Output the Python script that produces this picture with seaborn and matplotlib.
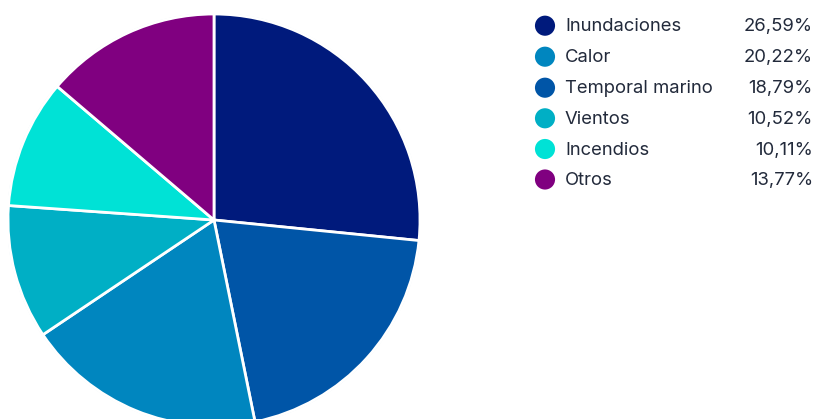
import matplotlib
matplotlib.use("Agg")
import matplotlib.pyplot as plt
import seaborn as sns

# legend order
labels = ["Inundaciones", "Calor", "Temporal marino", "Vientos", "Incendios", "Otros"]
values = [26.59, 20.22, 18.79, 10.52, 10.11, 13.77]
pct_text = ["26,59%", "20,22%", "18,79%", "10,52%", "10,11%", "13,77%"]

# colours as they appear in the pie (clockwise from top) and in the legend
slice_colors = ["#001a7c", "#0055a7", "#0086bf", "#00afc5", "#00e2d6", "#800080"]
legend_colors = ["#001a7c", "#0086bf", "#0055a7", "#00afc5", "#00e2d6", "#800080"]

sns.set_theme(style="white")
plt.rcParams["font.family"] = ["Inter", "DejaVu Sans"]

W, H = 818, 419
fig = plt.figure(figsize=(W / 100, H / 100), dpi=100)

cx, cy, r = 214, 220, 206
ax = fig.add_axes([(cx - r) / W, (H - cy - r) / H, 2 * r / W, 2 * r / H])
ax.pie(values, colors=slice_colors, startangle=90, counterclock=False,
       radius=1, wedgeprops=dict(edgecolor="white", linewidth=2))
circle = plt.Circle((0, 0), 1.0, fill=False, edgecolor="#dcecf2", linewidth=1.5, zorder=0)
ax.add_patch(circle)
ax.set_xlim(-1, 1)
ax.set_ylim(-1, 1)
ax.set_aspect("equal")
ax.axis("off")

# legend drawn by hand
lax = fig.add_axes([0, 0, 1, 1])
lax.set_xlim(0, W)
lax.set_ylim(H, 0)
lax.axis("off")
row_y = [25.7, 56.7, 87.7, 118.3, 149.0, 179.5]
lax.scatter([545] * len(labels), row_y, s=210, c=legend_colors, linewidths=0)
for y, lab, p in zip(row_y, labels, pct_text):
    lax.text(565, y + 1, lab, fontsize=13.3, color="#222a3b", va="center", ha="left")
    lax.text(813, y + 1, p, fontsize=13.3, color="#222a3b", va="center", ha="right")

fig.savefig("out.png", dpi=100)
